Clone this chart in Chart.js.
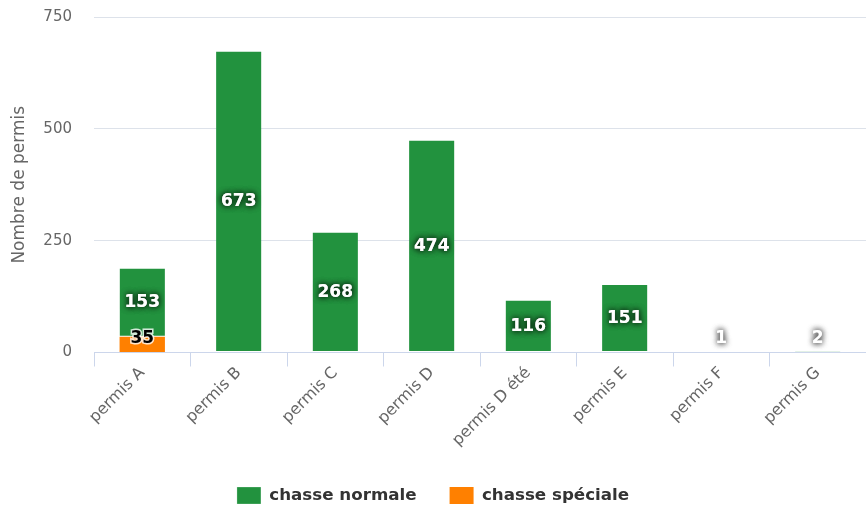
<!DOCTYPE html>
<html>
<head>
<meta charset="utf-8">
<script src="https://cdn.jsdelivr.net/npm/chart.js@4/dist/chart.umd.min.js"></script>
<style>
  html, body { margin: 0; padding: 0; background: #fff; }
  #wrap { width: 866px; height: 510px; }
</style>
</head>
<body>
<div id="wrap"><canvas id="graphique"></canvas></div>
<script>
const categories = ["permis A", "permis B", "permis C", "permis D", "permis D été", "permis E", "permis F", "permis G"];
const chasseNormale = [153, 673, 268, 474, 116, 151, 1, 2];
const chasseSpeciale = [35, null, null, null, null, null, null, null];
const yTicks = [0, 250, 500, 750];

// étiquettes au centre des barres (comme Highcharts)
const etiquettes = {
  id: "etiquettes",
  afterLayout(chart) {
    // légende un peu plus bas
    chart.legend.top += 4;
    chart.legend.bottom += 4;
  },
  afterDatasetsDraw(chart) {
    const ctx = chart.ctx;
    const bas = chart.chartArea.bottom;
    chart.data.datasets.forEach((ds, i) => {
      const meta = chart.getDatasetMeta(i);
      meta.data.forEach((bar, j) => {
        const v = ds.data[j];
        if (v === null || v === undefined) return;
        let y = (bar.y + bar.base) / 2;
        if (y > bas - 14) y = bas - 14;
        ctx.save();
        ctx.font = "bold 17px 'DejaVu Sans'";
        ctx.textAlign = "center";
        ctx.textBaseline = "middle";
        if (ds.clair) {
          ctx.lineWidth = 3;
          ctx.strokeStyle = "rgba(255,255,255,0.8)";
          ctx.strokeText(v, bar.x, y);
          ctx.fillStyle = "#000";
          ctx.fillText(v, bar.x, y);
        } else {
          ctx.shadowColor = "rgba(0,0,0,0.75)";
          ctx.shadowBlur = 6;
          ctx.fillStyle = "#fff";
          ctx.fillText(v, bar.x, y);
          ctx.fillText(v, bar.x, y);
        }
        ctx.restore();
      });
    });
  }
};

new Chart(document.getElementById("graphique"), {
  type: "bar",
  data: {
    labels: categories,
    datasets: [
      {
        label: "chasse spéciale",
        data: chasseSpeciale,
        backgroundColor: "#FF8000",
        clair: true,
        barPercentage: 0.47,
        categoryPercentage: 1
      },
      {
        label: "chasse normale",
        data: chasseNormale,
        backgroundColor: "#22923E",
        borderColor: "#fff",
        borderWidth: { bottom: 1 },
        borderSkipped: false,
        barPercentage: 0.47,
        categoryPercentage: 1
      }
    ]
  },
  options: {
    responsive: true,
    maintainAspectRatio: false,
    animation: false,
    layout: { padding: { top: 17, right: 0, left: 0, bottom: 0 } },
    plugins: {
      tooltip: { enabled: false },
      legend: {
        position: "bottom",
        labels: {
          sort: (a, b) => b.datasetIndex - a.datasetIndex,
          boxWidth: 24,
          boxHeight: 17,
          padding: 33,
          color: "#333",
          font: { family: "'DejaVu Sans'", size: 16.7, weight: "bold" }
        }
      }
    },
    scales: {
      x: {
        stacked: true,
        afterFit(scale) { scale.height += 3; },
        grid: { offset: true, drawOnChartArea: false, tickLength: 14, color: "#ccd6eb" },
        border: { color: "#ccd6eb" },
        ticks: {
          maxRotation: 45,
          minRotation: 45,
          padding: -3,
          color: "#666",
          font: { family: "'DejaVu Sans'", size: 16 }
        }
      },
      y: {
        stacked: true,
        min: 0,
        max: 750,
        afterFit(scale) {
          scale.width = 94;
          scale.paddingTop = 0;
          scale.paddingBottom = 0;
        },
        afterBuildTicks(scale) { scale.ticks = yTicks.map(v => ({ value: v })); },
        grid: { color: "#dde2ea", drawTicks: false },
        border: { display: false },
        ticks: {
          padding: 22,
          color: "#666",
          font: { family: "'DejaVu Sans'", size: 15 }
        },
        title: {
          display: true,
          text: "Nombre de permis",
          color: "#666",
          padding: { top: 9, bottom: 0 },
          font: { family: "'DejaVu Sans'", size: 17 }
        }
      }
    }
  },
  plugins: [etiquettes]
});
</script>
</body>
</html>
